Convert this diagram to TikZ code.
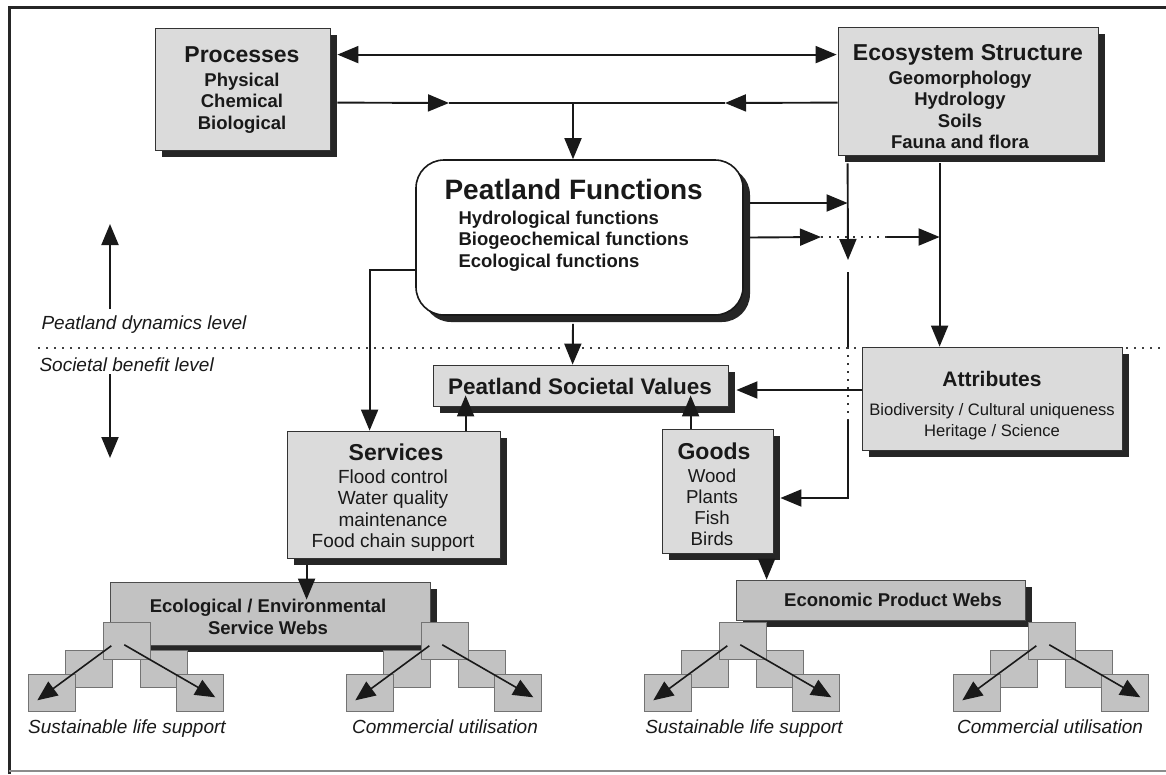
\documentclass[tikz,border=0pt]{standalone}
\usepackage{fontspec}
\setmainfont{Liberation Sans}
\usetikzlibrary{arrows.meta,shadows,calc}
\begin{document}
\begin{tikzpicture}[x=1pt,y=-1pt,
  shad/.style={drop shadow={shadow xshift=7pt,shadow yshift=-7pt,opacity=1,fill=black!85}},
  box/.style={draw=black!80,line width=0.8pt,fill=black!14,shad,inner sep=0pt},
  webbox/.style={draw=black!70,line width=0.8pt,fill=black!24,shad,inner sep=0pt},
  pfbox/.style={draw=black!90,line width=1.6pt,fill=white,rounded corners=28pt,shad,inner sep=0pt},
  sq/.style={draw=black!55,line width=0.6pt,fill=black!24,minimum width=47pt,minimum height=37pt,inner sep=0pt},
  tip/.style={-{Triangle[length=21pt,width=17pt]}},
  arr/.style={line width=1.9pt,draw=black!90,tip},
  darr/.style={line width=1.9pt,draw=black!90,{Triangle[length=21pt,width=17pt]}-{Triangle[length=21pt,width=17pt]}},
  sarr/.style={line width=1.6pt,draw=black!90,-{Triangle[length=20pt,width=17pt]}},
  ln/.style={line width=1.9pt,draw=black!90},
  dt/.style={line width=2pt,draw=black!80,dash pattern=on 2pt off 6pt},
  ttl/.style={text=black!90,font=\bfseries\fontsize{23}{26}\selectfont},
  itb/.style={text=black!90,align=center,font=\bfseries\fontsize{18.5}{21.3}\selectfont},
  itr/.style={text=black!90,align=center,font=\fontsize{19}{21.5}\selectfont},
  lab/.style={text=black!90,font=\itshape\fontsize{19}{22}\selectfont}
]
\useasboundingbox (0,0) rectangle (1166,774);
\fill[white] (0,0) rectangle (1166,774);
% frame
\draw[line width=3pt,black!85] (9,774) -- (9,7) -- (1166,7);
\draw[line width=1.5pt,black!45] (9,771) -- (1166,771);
% level divider
\draw[line width=2pt,black!75,dash pattern=on 2pt off 6pt] (38,348) -- (1166,348);

% boxes
\node[box,minimum width=175pt,minimum height=122pt] (proc) at (242.5,89) {};
\node[box,minimum width=260pt,minimum height=128pt] (eco) at (968,91) {};
\node[pfbox,minimum width=327pt,minimum height=155pt] (pf) at (579.5,237.5) {};
\node[box,minimum width=295pt,minimum height=41pt] (psv) at (580.5,385.5) {};
\node[box,minimum width=260pt,minimum height=103pt] (attr) at (992,398.5) {};
\node[box,minimum width=213pt,minimum height=127pt] (svc) at (393.5,494.5) {};
\node[box,minimum width=111pt,minimum height=124pt] (goods) at (717.5,491) {};
\node[webbox,minimum width=320pt,minimum height=63pt] (ecow) at (270,613.5) {};
\node[webbox,minimum width=289pt,minimum height=40pt] (econ) at (880.5,600) {};

% texts
\node[ttl] (procT) at (242,55) {Processes};
\node[itb] (procI) at (242,103) {Physical\\Chemical\\Biological};
\node[ttl] (ecoT) at (968,55) {Ecosystem Structure};
\node[itb] (ecoI) at (960,110) {Geomorphology\\Hydrology\\Soils\\Fauna and flora};
\node[anchor=west,text=black!90,font=\bfseries\fontsize{28}{32}\selectfont] (pfT) at (441,189) {Peatland Functions};
\node[anchor=west,itb,align=left] (pfI) at (455,241) {Hydrological functions\\Biogeochemical functions\\Ecological functions};
\node[text=black!90,font=\bfseries\fontsize{22.5}{26}\selectfont] (psvT) at (580,386) {Peatland Societal Values};
\node[text=black!90,font=\bfseries\fontsize{21}{24}\selectfont] (attrT) at (992,379) {Attributes};
\node[text=black!90,align=center,font=\fontsize{16.6}{21}\selectfont] (attrI) at (992,422) {Biodiversity / Cultural uniqueness\\Heritage / Science};
\node[ttl] (svcT) at (396,452) {Services};
\node[itr] (svcI) at (393,510.5) {Flood control\\Water quality\\maintenance\\Food chain support};
\node[ttl] (goodsT) at (714,451) {Goods};
\node[itr,font=\fontsize{18.7}{21}\selectfont] (goodsI) at (712,507.5) {Wood\\Plants\\Fish\\Birds};
\node[itb,font=\bfseries\fontsize{18.5}{22}\selectfont] (ecowT) at (268,617) {Ecological / Environmental\\Service Webs};
\node[itb] (econT) at (893,600) {Economic Product Webs};

\node[lab,anchor=west] (lvlA) at (38,325) {Peatland dynamics level};
\node[lab,anchor=west] (lvlB) at (36,365) {Societal benefit level};

% level arrows
\coordinate (upS) at (110,309);
\coordinate (upE) at (110,224);
\coordinate (dnS) at (110,374);
\coordinate (dnE) at (110,458);
\draw[arr] (upS) -- (upE);
\draw[arr] (dnS) -- (dnE);

% top connectors
\draw[darr] ($(proc.north east)+(7,27)$) -- ($(eco.north west)+(-1,28)$);
\coordinate (jl) at (449,103);
\coordinate (jr) at (725,103);
\coordinate (jm) at (573,103);
\draw[arr] ($(proc.north east)+(7,75)$) -- (jl);
\draw[ln] (jl) -- (jr);
\draw[arr] ($(eco.north west)+(0,76)$) -- (jr);
\draw[arr] (jm) -- (jm |- pf.north);

% PF to PSV and services
\draw[arr] ($(pf.south)+(-6.5,8)$) -- ($(psv.north west)+(140,0)$);
\draw[arr] (pf.west |- 0,270) -| ($(svc.north west)+(83,0)$);

% right side network
\coordinate (A0) at ($(eco.south west)+(10,8)$);
\coordinate (Aend) at (848,260);
\coordinate (A1) at (848,272);
\coordinate (A2) at (848,347);
\coordinate (A3) at (848,420);
\coordinate (B0) at ($(eco.south west)+(102,8)$);
\coordinate (m1) at (821,237);
\coordinate (m2) at (887,237);
\draw[arr] ($(pf.east)+(6,-34.5)$) -- (A0 |- 0,203);
\draw[arr] ($(pf.east)+(6,0)$) -- (m1);
\draw[dt] (m1) -- (m2);
\draw[arr] (m2) -- (B0 |- m2);
\draw[arr] (A0) -- (Aend);
\draw[ln] (A1) -- (A2);
\draw[dt] (A2) -- (A3);
\draw[arr] (A3) |- ($(goods.east)+(7,7)$);
\draw[arr] (B0) -- ($(attr.north west)+(78,0)$);
\draw[arr] (attr.west |- 0,390) -- ($(psv.east)+(8,4.5)$);

% into values
\draw[arr] ($(svc.north west)+(179,0)$) -- ($(psv.south west)+(33,-11)$);
\draw[arr] ($(goods.north west)+(29,0)$) -- ($(psv.south west)+(258,-11)$);

% down to webs
\draw[arr] ($(svc.south west)+(20,7)$) -- ($(ecow.north west)+(197,18)$);
\draw[arr] ($(goods.south west)+(105,7)$) -- ($(econ.north west)+(31,0)$);

% clusters
\foreach \i/\tx in {1/103,2/421,3/719,4/1028}{
  \node[sq,anchor=north west] (c\i ml) at (\tx-38,650) {};
  \node[sq,anchor=north west] (c\i mr) at (\tx+37,650) {};
  \node[sq,anchor=north west] (c\i bl) at (\tx-75,674) {};
  \node[sq,anchor=north west] (c\i br) at (\tx+73,674) {};
  \node[sq,anchor=north west] (c\i t) at (\tx,622) {};
  \draw[sarr] ($(c\i t.center)+(-15.5,5)$) -- ($(c\i bl.center)+(-14.5,7.5)$);
  \draw[sarr] ($(c\i t.center)+(-2.5,4)$) -- ($(c\i br.center)+(15.5,4.5)$);
}
\node[lab] (s1) at (127,729) {Sustainable life support};
\node[lab] (s2) at (445,727) {Commercial utilisation};
\node[lab] (s3) at (744,729) {Sustainable life support};
\node[lab] (s4) at (1050,727) {Commercial utilisation};
\end{tikzpicture}
\end{document}
